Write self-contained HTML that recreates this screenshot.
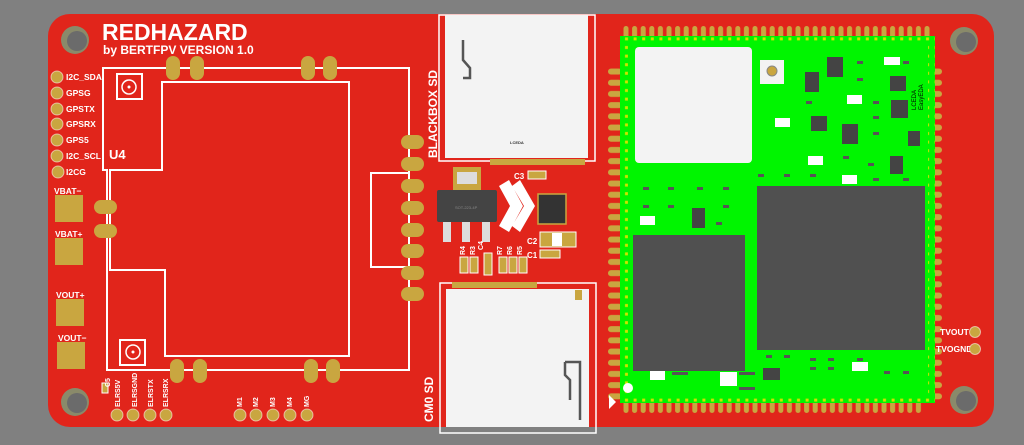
<!DOCTYPE html>
<html><head><meta charset="utf-8"><style>
html,body{margin:0;padding:0;background:#808080;}
svg{display:block}
text{font-family:"Liberation Sans",sans-serif;fill:#fff;font-weight:bold}
</style></head><body>
<svg width="1024" height="445" viewBox="0 0 1024 445" xmlns="http://www.w3.org/2000/svg">
<defs>
<pattern id="ptop" x="622" y="0" width="8.6" height="445" patternUnits="userSpaceOnUse">
<rect x="1.5" y="26" width="5" height="12" rx="2.5" fill="#c9a640"/></pattern>
<pattern id="pbot" x="622" y="0" width="8.6" height="445" patternUnits="userSpaceOnUse">
<rect x="1.5" y="401" width="5" height="12" rx="2.5" fill="#c9a640"/></pattern>
<pattern id="pleft" x="0" y="66" width="1024" height="11.2" patternUnits="userSpaceOnUse">
<rect x="608" y="2.5" width="14" height="6" rx="3" fill="#c9a640"/></pattern>
<pattern id="pright" x="0" y="66" width="1024" height="11.2" patternUnits="userSpaceOnUse">
<rect x="930" y="2.5" width="12" height="6" rx="3" fill="#c9a640"/></pattern>
<pattern id="ydots" x="622" y="0" width="8.6" height="8.6" patternUnits="userSpaceOnUse">
<rect x="3" y="3" width="3" height="3" fill="#e8e000"/></pattern>
</defs>
<rect width="1024" height="445" fill="#808080"/>
<rect x="48" y="14" width="946" height="413" rx="22" fill="#e1251b"/>
<g fill="#8a8a6a"><circle cx="75" cy="40" r="14"/><circle cx="75" cy="402" r="14"/><circle cx="964" cy="41" r="14"/><circle cx="964" cy="400" r="14"/></g>
<g fill="#6b6b6b"><circle cx="77" cy="41" r="10"/><circle cx="77" cy="403" r="10"/><circle cx="966" cy="42" r="10"/><circle cx="966" cy="401" r="10"/></g>
<text x="102" y="40" font-size="23">REDHAZARD</text>
<text x="103" y="54" font-size="12">by BERTFPV VERSION 1.0</text>
<g fill="#c9a640" stroke="#fff8" stroke-width="1">
<circle cx="57" cy="77" r="6"/><circle cx="57" cy="93" r="6"/><circle cx="57" cy="109" r="6"/><circle cx="57" cy="124" r="6"/><circle cx="57" cy="140" r="6"/><circle cx="57" cy="156" r="6"/><circle cx="58" cy="172" r="6"/>
</g>
<g font-size="8.5"><text x="66" y="80">I2C_SDA</text><text x="66" y="96">GPSG</text><text x="66" y="112">GPSTX</text><text x="66" y="127">GPSRX</text><text x="66" y="143">GPS5</text><text x="66" y="159">I2C_SCL</text><text x="66" y="175">I2CG</text>
<text x="54" y="194">VBAT−</text><text x="55" y="237">VBAT+</text><text x="56" y="298">VOUT+</text><text x="58" y="341">VOUT−</text></g>
<g fill="#c9a640"><rect x="55" y="195" width="28" height="27"/><rect x="55" y="238" width="28" height="27"/><rect x="56" y="299" width="28" height="27"/><rect x="57" y="342" width="28" height="27"/></g>
<g fill="none" stroke="#fff" stroke-width="2">
<polygon points="103,68 409,68 409,370 107,370 107,170 103,170"/>
<polygon points="162,82 349,82 349,356 165,356 165,270 110,270 110,170 162,170"/>
<rect x="117" y="74" width="25" height="25"/><rect x="120" y="340" width="25" height="25"/>
<rect x="371" y="173" width="38" height="94"/>
</g>
<g fill="none" stroke="#fff" stroke-width="1.5"><circle cx="129" cy="87" r="7"/><circle cx="133" cy="352" r="7"/></g>
<circle cx="129" cy="87" r="1.5" fill="#fff"/><circle cx="133" cy="352" r="1.5" fill="#fff"/>
<text x="109" y="159" font-size="13" font-weight="normal">U4</text>
<g fill="#c9a640">
<rect x="166" y="56" width="14" height="24" rx="7"/><rect x="190" y="56" width="14" height="24" rx="7"/><rect x="301" y="56" width="14" height="24" rx="7"/><rect x="323" y="56" width="14" height="24" rx="7"/>
<rect x="170" y="359" width="14" height="24" rx="7"/><rect x="193" y="359" width="14" height="24" rx="7"/><rect x="304" y="359" width="14" height="24" rx="7"/><rect x="326" y="359" width="14" height="24" rx="7"/>
<rect x="94" y="200" width="23" height="14" rx="7"/><rect x="94" y="224" width="23" height="14" rx="7"/>
<rect x="401" y="135" width="23" height="14" rx="7"/><rect x="401" y="157" width="23" height="14" rx="7"/><rect x="401" y="179" width="23" height="14" rx="7"/><rect x="401" y="201" width="23" height="14" rx="7"/><rect x="401" y="223" width="23" height="14" rx="7"/><rect x="401" y="244" width="23" height="14" rx="7"/><rect x="401" y="266" width="23" height="14" rx="7"/><rect x="401" y="287" width="23" height="14" rx="7"/>
</g>
<text transform="translate(437,158) rotate(-90)" font-size="12">BLACKBOX SD</text>
<text transform="translate(433,422) rotate(-90)" font-size="12">CM0 SD</text>
<rect x="102" y="383" width="6" height="10" fill="#c9a640" stroke="#fff"/>
<g font-size="7">
<text transform="translate(110,387) rotate(-90)">C5</text>
<text transform="translate(120,407) rotate(-90)">ELRS5V</text>
<text transform="translate(137,407) rotate(-90)">ELRSGND</text>
<text transform="translate(153,407) rotate(-90)">ELRSTX</text>
<text transform="translate(168,407) rotate(-90)">ELRSRX</text>
<text transform="translate(242,407) rotate(-90)">M1</text>
<text transform="translate(258,407) rotate(-90)">M2</text>
<text transform="translate(275,407) rotate(-90)">M3</text>
<text transform="translate(292,407) rotate(-90)">M4</text>
<text transform="translate(309,407) rotate(-90)">MG</text>
</g>
<g fill="#c9a640" stroke="#fff8">
<circle cx="117" cy="415" r="6"/><circle cx="133" cy="415" r="6"/><circle cx="150" cy="415" r="6"/><circle cx="166" cy="415" r="6"/>
<circle cx="240" cy="415" r="6"/><circle cx="256" cy="415" r="6"/><circle cx="273" cy="415" r="6"/><circle cx="290" cy="415" r="6"/><circle cx="307" cy="415" r="6"/>
</g>
<rect x="439" y="15" width="156" height="146" fill="none" stroke="#fff" stroke-width="1.5"/>
<rect x="445" y="15" width="143" height="143" fill="#f3f3f3"/>
<path d="M463 40 V60 L470 68 V78 H463" fill="none" stroke="#555" stroke-width="2.5"/>
<text x="510" y="144" font-size="4" style="fill:#333">LCEDA</text>
<g fill="#c9a640"><rect x="490" y="159" width="95" height="6"/></g>
<rect x="440" y="283" width="156" height="150" fill="none" stroke="#fff" stroke-width="1.5"/>
<rect x="446" y="289" width="143" height="138" fill="#f3f3f3"/>
<path d="M565 362 H580 V420 M565 362 V375 L570 380 V400" fill="none" stroke="#555" stroke-width="2.5"/>
<g fill="#c9a640"><rect x="452" y="282" width="85" height="6"/><rect x="575" y="290" width="7" height="10"/></g>
<text x="514" y="179" font-size="8">C3</text>
<rect x="528" y="171" width="18" height="8" fill="#c9a640" stroke="#fff"/>
<rect x="453" y="167" width="28" height="26" fill="#c9a640"/><rect x="457" y="172" width="20" height="12" fill="#ddd"/>
<rect x="437" y="190" width="60" height="32" fill="#444" rx="2"/>
<text x="455" y="209" font-size="4" style="fill:#888;font-weight:normal">SOT-223-4P</text>
<g fill="#ddd"><rect x="443" y="222" width="8" height="20"/><rect x="462" y="222" width="8" height="20"/><rect x="482" y="222" width="8" height="20"/></g>
<path d="M499 186 L509 180 L523 206 L509 232 L499 226 L510 206Z M512 186 L520 180 L535 206 L520 232 L512 226 L524 206Z" fill="#fff"/>
<rect x="538" y="194" width="28" height="30" fill="#333" stroke="#c9a640" stroke-width="1.5"/>
<text x="527" y="244" font-size="8">C2</text>
<rect x="540" y="232" width="36" height="15" fill="#c9a640" stroke="#fff"/><rect x="552" y="233" width="10" height="13" fill="#fff"/>
<text x="527" y="258" font-size="8">C1</text>
<rect x="540" y="250" width="20" height="8" fill="#c9a640" stroke="#fff"/>
<g font-size="7"><text transform="translate(465,255) rotate(-90)">R4</text><text transform="translate(475,255) rotate(-90)">R3</text><text transform="translate(483,250) rotate(-90)">C4</text><text transform="translate(502,255) rotate(-90)">R7</text><text transform="translate(512,255) rotate(-90)">R6</text><text transform="translate(522,255) rotate(-90)">R5</text></g>
<g fill="#c9a640" stroke="#fff"><rect x="460" y="257" width="8" height="16"/><rect x="470" y="257" width="8" height="16"/><rect x="484" y="253" width="8" height="22"/><rect x="499" y="257" width="8" height="16"/><rect x="509" y="257" width="8" height="16"/><rect x="519" y="257" width="8" height="16"/></g>
<rect x="622" y="26" width="310" height="12" fill="url(#ptop)"/>
<rect x="622" y="401" width="300" height="12" fill="url(#pbot)"/>
<rect x="607" y="66" width="16" height="336" fill="url(#pleft)"/>
<rect x="929" y="66" width="14" height="336" fill="url(#pright)"/>
<rect x="620" y="36" width="315" height="367" fill="#00f500"/>
<rect x="620" y="36" width="315" height="367" fill="url(#ydots)" opacity="0.9"/>
<rect x="628" y="44" width="300" height="352" fill="#00f500"/>
<rect x="635" y="47" width="117" height="116" rx="4" fill="#f3f3f3"/>
<rect x="760" y="60" width="24" height="24" fill="#f3f3f3"/><circle cx="772" cy="71" r="5" fill="#c9a640" stroke="#888"/>
<rect x="757" y="186" width="168" height="164" fill="#505050"/>
<rect x="633" y="235" width="112" height="136" fill="#505050"/>
<g fill="#444">
<rect x="827" y="57" width="16" height="20"/><rect x="805" y="72" width="14" height="20"/><rect x="890" y="76" width="16" height="15"/><rect x="891" y="100" width="17" height="18"/><rect x="811" y="116" width="16" height="15"/><rect x="842" y="124" width="16" height="20"/><rect x="908" y="131" width="12" height="15"/><rect x="890" y="156" width="13" height="18"/><rect x="692" y="208" width="13" height="20"/><rect x="763" y="368" width="17" height="12"/>
</g>
<g fill="#fff"><rect x="884" y="57" width="16" height="8"/><rect x="847" y="95" width="15" height="9"/><rect x="775" y="118" width="15" height="9"/><rect x="808" y="156" width="15" height="9"/><rect x="842" y="175" width="15" height="9"/><rect x="640" y="216" width="15" height="9"/><rect x="650" y="371" width="15" height="9"/><rect x="720" y="372" width="17" height="14"/><rect x="852" y="362" width="16" height="9"/><circle cx="628" cy="388" r="5"/></g>
<g fill="#555">
<rect x="857" y="61" width="6" height="3"/><rect x="857" y="78" width="6" height="3"/><rect x="903" y="61" width="6" height="3"/><rect x="806" y="101" width="6" height="3"/><rect x="873" y="101" width="6" height="3"/><rect x="873" y="116" width="6" height="3"/><rect x="873" y="132" width="6" height="3"/><rect x="843" y="156" width="6" height="3"/><rect x="868" y="163" width="6" height="3"/><rect x="873" y="178" width="6" height="3"/><rect x="903" y="178" width="6" height="3"/>
<rect x="758" y="174" width="6" height="3"/><rect x="784" y="174" width="6" height="3"/><rect x="810" y="174" width="6" height="3"/><rect x="643" y="187" width="6" height="3"/><rect x="668" y="187" width="6" height="3"/><rect x="697" y="187" width="6" height="3"/><rect x="723" y="187" width="6" height="3"/>
<rect x="643" y="205" width="6" height="3"/><rect x="668" y="205" width="6" height="3"/><rect x="723" y="205" width="6" height="3"/><rect x="716" y="222" width="6" height="3"/>
<rect x="766" y="355" width="6" height="3"/><rect x="784" y="355" width="6" height="3"/><rect x="810" y="358" width="6" height="3"/><rect x="828" y="358" width="6" height="3"/><rect x="857" y="358" width="6" height="3"/><rect x="810" y="367" width="6" height="3"/><rect x="828" y="367" width="6" height="3"/><rect x="884" y="371" width="6" height="3"/><rect x="903" y="371" width="6" height="3"/>
<rect x="672" y="372" width="16" height="3"/><rect x="739" y="372" width="16" height="3"/><rect x="739" y="387" width="16" height="3"/></g>
<text transform="translate(916,110) rotate(-90)" font-size="6" style="fill:#000;font-weight:normal">LCEDA</text>
<text transform="translate(923,110) rotate(-90)" font-size="6" style="fill:#000;font-weight:normal">EasyEDA</text>
<path d="M609 395 L616 402 L609 409Z" fill="#fff"/>
<text x="940" y="335" font-size="8.5">TVOUT</text><text x="936" y="352" font-size="8.5">TVOGND</text>
<g fill="#c9a640" stroke="#fff8"><circle cx="975" cy="332" r="5.5"/><circle cx="975" cy="349" r="5.5"/></g>
</svg>
</body></html>
